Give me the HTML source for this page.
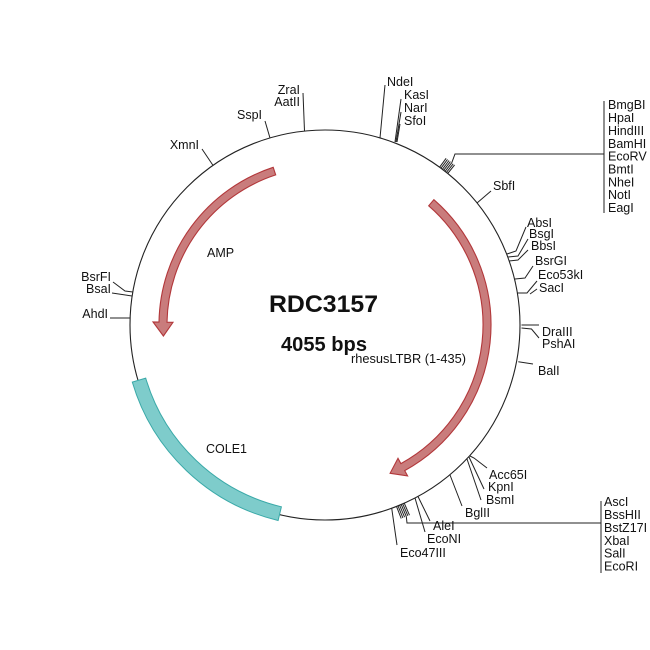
<!DOCTYPE html>
<html>
<head>
<meta charset="utf-8">
<style>
  html,body{margin:0;padding:0;background:#fff;}
  svg{display:block;}
  text{font-family:"Liberation Sans",Arial,sans-serif;fill:#111;}
  .l{font-size:12.5px;}
  .e{text-anchor:end;}
</style>
</head>
<body>
<svg width="650" height="650" viewBox="0 0 650 650" xmlns="http://www.w3.org/2000/svg">
  <rect width="650" height="650" fill="#fff"/>
  <!-- backbone -->
  <circle cx="325" cy="325" r="195" fill="none" stroke="#222" stroke-width="1.1"/>

  <!-- COLE1 band -->
  <path d="M278.1,520.5 A201,201 0 0 1 132.3,382.1 L145.7,378.1 A187,187 0 0 0 281.4,506.8 Z" fill="#7ecccb" stroke="#3aa9a8" stroke-width="1"/>

  <!-- right arrow (rhesusLTBR) -->
  <path d="M433.9,199.7 A166,166 0 0 1 404.7,470.6 L407.6,475.9 L390.1,473.3 L398.0,458.3 L400.9,463.6 A158,158 0 0 0 428.7,205.8 Z" fill="#c97c7c" stroke="#b2373a" stroke-width="1.1"/>
  <!-- left arrow (AMP) -->
  <path d="M273.2,167.3 A166,166 0 0 0 159.0,322.1 L153.0,322.0 L163.4,336.0 L173.0,322.3 L167.0,322.2 A158,158 0 0 1 275.7,174.9 Z" fill="#c97c7c" stroke="#b2373a" stroke-width="1.1"/>

  <!-- tick lines -->
  <g fill="none" stroke="#222" stroke-width="1">
    <!-- top -->
    <polyline points="202,149 213,165.4"/>
    <polyline points="265,121 270,138"/>
    <polyline points="303,93 304.5,131"/>
    <polyline points="385,85 380,138"/>
    <polyline points="401,99 395,142"/>
    <polyline points="401,112 396,142"/>
    <polyline points="400,124 397,142"/>
    <!-- top-right hatch -->
    <line x1="439.6" y1="167.2" x2="446.1" y2="158.3"/>
    <line x1="441.0" y1="168.2" x2="447.5" y2="159.4"/>
    <line x1="442.4" y1="169.3" x2="449.0" y2="160.5"/>
    <line x1="443.7" y1="170.3" x2="450.4" y2="161.6"/>
    <line x1="445.1" y1="171.3" x2="451.8" y2="162.7"/>
    <line x1="446.4" y1="172.4" x2="453.2" y2="163.8"/>
    <line x1="447.7" y1="173.5" x2="454.6" y2="164.9"/>
    <polyline points="451.8,162.7 455,154 604,154"/>
    <line x1="604" y1="101" x2="604" y2="213"/>
    <!-- SbfI -->
    <polyline points="491,191 477,203"/>
    <!-- right -->
    <polyline points="526,227 516,251 507,254"/>
    <polyline points="528,239 518,256 508,257"/>
    <polyline points="528,250 518,260 509,261"/>
    <polyline points="533,266 525,278 515,279"/>
    <polyline points="537,281 527,293 517,293"/>
    <polyline points="537,289 530,294"/>
    <polyline points="521.5,325 539,325"/>
    <polyline points="521.5,328 531.5,329 539,338"/>
    <polyline points="518.3,361.7 533,364"/>
    <!-- bottom -->
    <polyline points="470,456 474,458 487,468"/>
    <polyline points="469,457 484,489"/>
    <polyline points="467,459 481,500"/>
    <polyline points="450,475 462,506"/>
    <polyline points="418,496.5 430,521"/>
    <polyline points="415,498 425,532"/>
    <polyline points="391.7,508.2 397,545"/>
    <!-- bottom hatch -->
    <line x1="404.2" y1="503.1" x2="409.5" y2="515.2"/>
    <line x1="402.7" y1="503.8" x2="407.9" y2="515.8"/>
    <line x1="401.2" y1="504.5" x2="406.3" y2="516.5"/>
    <line x1="399.6" y1="505.2" x2="404.6" y2="517.2"/>
    <line x1="398.0" y1="505.8" x2="402.9" y2="517.9"/>
    <line x1="396.5" y1="506.4" x2="401.2" y2="518.5"/>
    <polyline points="406.3,516.5 407,523 601,523"/>
    <line x1="601" y1="501" x2="601" y2="573"/>
    <!-- left -->
    <polyline points="113,282 125,291 132.8,292"/>
    <polyline points="112,293 132,296"/>
    <polyline points="110,318 130,318"/>
  </g>

  <!-- center labels -->
  <text x="269" y="312" font-size="24" font-weight="bold" textLength="109" lengthAdjust="spacingAndGlyphs">RDC3157</text>
  <text x="281" y="351" font-size="20" font-weight="bold" textLength="86" lengthAdjust="spacingAndGlyphs">4055 bps</text>
  <text x="351" y="363" class="l" textLength="115" lengthAdjust="spacingAndGlyphs">rhesusLTBR (1-435)</text>
  <text x="207" y="257" class="l">AMP</text>
  <text x="206" y="453" class="l">COLE1</text>

  <!-- top labels -->
  <text x="199" y="149" class="l e">XmnI</text>
  <text x="262" y="119" class="l e">SspI</text>
  <text x="300" y="94" class="l e">ZraI</text>
  <text x="300" y="106" class="l e">AatII</text>
  <text x="387" y="86" class="l">NdeI</text>
  <text x="404" y="99" class="l">KasI</text>
  <text x="404" y="112" class="l">NarI</text>
  <text x="404" y="125" class="l">SfoI</text>

  <!-- top-right list -->
  <text x="608" y="109" class="l">BmgBI</text>
  <text x="608" y="122" class="l">HpaI</text>
  <text x="608" y="135" class="l">HindIII</text>
  <text x="608" y="148" class="l">BamHI</text>
  <text x="608" y="160.5" class="l">EcoRV</text>
  <text x="608" y="173.5" class="l">BmtI</text>
  <text x="608" y="186.5" class="l">NheI</text>
  <text x="608" y="199" class="l">NotI</text>
  <text x="608" y="212" class="l">EagI</text>

  <!-- right labels -->
  <text x="493" y="190" class="l">SbfI</text>
  <text x="527" y="227" class="l">AbsI</text>
  <text x="529" y="238" class="l">BsgI</text>
  <text x="531" y="250" class="l">BbsI</text>
  <text x="535" y="265" class="l">BsrGI</text>
  <text x="538" y="279" class="l">Eco53kI</text>
  <text x="539" y="292" class="l">SacI</text>
  <text x="542" y="336" class="l">DraIII</text>
  <text x="542" y="348" class="l">PshAI</text>
  <text x="538" y="375" class="l">BalI</text>

  <!-- bottom labels -->
  <text x="489" y="479" class="l">Acc65I</text>
  <text x="488" y="491" class="l">KpnI</text>
  <text x="486" y="504" class="l">BsmI</text>
  <text x="465" y="517" class="l">BglII</text>
  <text x="433" y="530" class="l">AleI</text>
  <text x="427" y="543" class="l">EcoNI</text>
  <text x="400" y="557" class="l">Eco47III</text>

  <!-- bottom-right list -->
  <text x="604" y="506" class="l">AscI</text>
  <text x="604" y="519" class="l">BssHII</text>
  <text x="604" y="532" class="l">BstZ17I</text>
  <text x="604" y="545" class="l">XbaI</text>
  <text x="604" y="557.5" class="l">SalI</text>
  <text x="604" y="570.5" class="l">EcoRI</text>

  <!-- left labels -->
  <text x="111" y="281" class="l e">BsrFI</text>
  <text x="111" y="293" class="l e">BsaI</text>
  <text x="108" y="318" class="l e">AhdI</text>
</svg>
</body>
</html>
